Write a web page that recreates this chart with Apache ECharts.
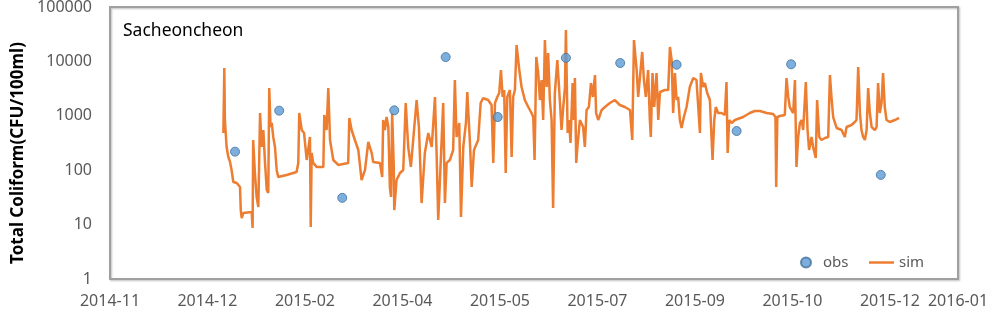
<!DOCTYPE html>
<html>
<head>
<meta charset="utf-8">
<script src="https://cdn.jsdelivr.net/npm/echarts@6/dist/echarts.min.js"></script>
<style>
html,body{margin:0;padding:0;background:#fff;}
#c{width:987px;height:314px;}
</style>
</head>
<body>
<div id="c"></div>
<script>
// Days are counted from 2014-11-01 (axis origin)
const axisBase = Date.UTC(2014, 10, 1);
const xMin = 0, xMax = 443.6, xInterval = 51;
const yTicks = [1, 10, 100, 1000, 10000, 100000];
const chartTitle = 'Sacheoncheon';
const yName = 'Total Coliform(CFU/100ml)';

const obsDays = [65.4, 88.5, 121.5, 148.7, 175.6, 202.8, 238.5, 266.9, 296.4, 327.8, 356.3, 403.2];
const obsValues = [219, 1242, 31, 1260, 12000, 950, 11600, 9340, 8700, 525, 8850, 82];

const simDays = [
59.3,59.8,60.1,61.0,61.9,62.8,63.6,64.5,66.3,68.0,68.4,68.9,69.7,74.1,74.6,74.9,75.8,76.7,77.6,78.5,
79.3,80.2,81.1,82.0,82.8,83.3,84.0,84.6,85.4,86.3,87.2,88.0,92.4,97.6,98.5,99.0,100.3,101.5,102.9,104.6,
105.0,105.5,106.3,108.1,111.6,112.1,113.3,114.2,115.1,116.8,119.4,124.6,125.2,126.4,128.1,129.9,131.6,133.4,135.1,136.9,
137.7,141.2,142.4,142.9,143.8,144.7,145.6,146.4,147.0,147.6,148.4,148.7,149.9,151.7,153.4,154.7,156.0,157.4,158.6,160.4,
161.6,163.0,164.7,166.5,168.3,170.0,170.9,171.7,172.6,174.3,175.2,176.1,177.8,179.5,180.4,181.3,182.7,183.6,184.8,186.2,
186.9,188.3,189.2,190.4,192.6,193.9,195.2,197.8,199.6,200.5,201.4,202.6,203.6,204.5,205.4,206.2,207.0,207.8,209.2,210.1,
210.9,211.8,212.7,214.1,215.3,217.0,218.8,220.5,221.4,222.1,223.0,224.0,224.9,225.8,226.6,227.5,228.4,229.2,230.1,231.0,
231.8,232.7,234.0,235.4,236.2,237.1,238.0,238.5,239.4,240.1,240.9,242.0,242.7,243.2,243.9,244.5,245.8,247.5,248.4,249.3,
250.5,251.6,252.6,253.7,254.3,255.4,257.2,258.9,261.5,264.1,266.7,269.3,272.0,273.2,274.1,275.5,276.3,277.2,278.4,279.3,
280.3,281.5,282.4,282.9,283.8,284.7,285.9,286.8,287.7,290.3,292.0,292.9,293.8,294.6,295.5,296.4,297.2,298.1,299.0,300.2,
301.6,303.3,305.1,306.8,308.6,309.1,310.3,311.2,312.4,313.8,315.2,316.1,316.9,318.1,319.9,321.6,322.5,323.1,323.9,325.2,
326.9,327.8,331.2,334.7,337.3,340.0,343.5,346.9,348.1,348.5,349.1,350.4,353.0,353.9,354.8,355.6,357.4,358.3,359.1,360.0,
360.9,361.8,362.6,364.0,364.9,365.7,367.0,367.8,369.2,369.9,371.0,372.2,374.0,375.7,376.6,377.4,378.3,380.1,382.7,384.4,
385.3,387.9,389.6,390.5,391.4,392.3,393.1,394.0,394.9,395.8,396.6,397.5,398.4,400.1,401.0,401.8,402.7,403.6,404.4,405.3,
406.2,407.9,410.6,412.8
];
const simValues = [
483,7560,837,267,175,142,101,60.7,58.2,49.1,18.5,13.2,16.3,17.1,8.7,359,88.9,32.2,21.1,1125,
267,548,136,43.3,38.1,3240,622,738,408,267,101,75,81.6,92.7,136,1125,548,483,154,408,
9.0,207,136,115,115,1035,548,3240,359,154,125,136,912,548,359,235,66,101,330,207,
142,136,75,837,548,950,622,49.1,32.2,1125,136,18.5,66,88.9,101,1720,267,115,359,1950,
622,24.9,207,483,267,2220,175,12.2,66,1720,24.9,136,154,235,4550,408,738,13.8,267,738,
2740,316,49.1,235,359,1720,2120,1950,1580,136,1720,2220,2620,6950,2220,2980,88.9,2220,2980,175,
2220,2980,20000,6950,3380,1950,1450,1125,950,154,12050,6120,1950,4550,837,24700,3380,14300,1950,837,
20.2,2620,10600,1720,548,1450,3380,37800,483,837,316,4010,837,4950,136,267,837,622,267,1280,
1450,4010,2220,5620,1125,837,1280,1450,1720,1950,1580,1450,1280,359,24700,6950,2220,2220,14900,4550,
2220,6950,837,408,6120,1450,6120,837,2740,2980,2980,18400,10600,1125,6120,1950,2220,837,597,950,
1450,3380,4950,4550,483,6120,3380,4010,2620,1950,154,837,1450,1125,1125,1035,4180,207,837,738,
837,837,950,1125,1225,1225,1125,1080,950,49.1,950,992,1035,4950,2220,1450,1125,4550,115,408,
738,837,548,4180,548,235,408,267,168,1950,408,359,391,408,5620,2220,950,597,548,408,
622,678,769,837,7890,1125,548,408,359,548,3240,1125,622,548,622,4010,1125,1720,6120,1450,
837,769,837,912
];

function fmtDate(v) {
  const d = new Date(axisBase + v * 86400000);
  const m = d.getUTCMonth() + 1;
  return d.getUTCFullYear() + '-' + (m < 10 ? '0' + m : m);
}

const chart = echarts.init(document.getElementById('c'), null, {renderer: 'canvas'});
const font = 'Noto Sans';
chart.setOption({
  animation: false,
  backgroundColor: '#ffffff',
  textStyle: {fontFamily: font},
  title: {
    text: chartTitle,
    left: 118, top: 17,
    textStyle: {fontFamily: font, fontSize: 17.5, fontWeight: 'normal', color: '#000'}
  },
  legend: [
    {
      left: 795, top: 250,
      itemWidth: 10, itemHeight: 10,
      textStyle: {fontFamily: font, fontSize: 15, color: '#595959', padding: [0, 0, 0, 7]},
      data: [{name: 'obs', icon: 'circle'}]
    },
    {
      left: 864, top: 250,
      itemWidth: 25, itemHeight: 2.5,
      textStyle: {fontFamily: font, fontSize: 15, color: '#595959'},
      data: [{name: 'sim', icon: 'rect'}]
    }
  ],
  grid: {
    left: 110, right: 29, top: 7, bottom: 35,
    outerBoundsMode: 'none', containLabel: false,
    show: true, borderColor: '#a0a0a0', borderWidth: 2,
    backgroundColor: 'transparent',
    shadowColor: 'rgba(0,0,0,0.25)', shadowBlur: 2, shadowOffsetX: 1, shadowOffsetY: 1
  },
  xAxis: {
    type: 'value', min: xMin, max: xMax, interval: xInterval,
    axisLine: {show: false}, axisTick: {show: false}, splitLine: {show: false},
    axisLabel: {formatter: fmtDate, margin: 14, fontFamily: font, fontSize: 16, color: '#595959',
      showMaxLabel: true, showMinLabel: true}
  },
  yAxis: {
    type: 'log', logBase: 10, min: yTicks[0], max: yTicks[yTicks.length - 1],
    name: yName, nameLocation: 'middle', nameGap: 82,
    nameTextStyle: {fontFamily: font, fontSize: 17, fontWeight: 'bold', color: '#000', padding: [0, 20, 0, 0]},
    axisLine: {show: false}, axisTick: {show: false}, splitLine: {show: false},
    axisLabel: {margin: 18, fontFamily: font, fontSize: 16, color: '#595959',
      formatter: v => String(Math.round(v))}
  },
  series: [
    {
      name: 'obs', type: 'scatter', z: 3,
      symbol: 'circle', symbolSize: 9,
      itemStyle: {color: '#5b9bd5', borderColor: '#41719c', borderWidth: 1},
      data: obsDays.map((d, i) => [d, obsValues[i]])
    },
    {
      name: 'sim', type: 'line', z: 2,
      symbol: 'none', showSymbol: false,
      lineStyle: {color: '#ed7d31', width: 2.5},
      itemStyle: {color: '#ed7d31'},
      data: simDays.map((d, i) => [d, simValues[i]])
    }
  ]
});
</script>
</body>
</html>
